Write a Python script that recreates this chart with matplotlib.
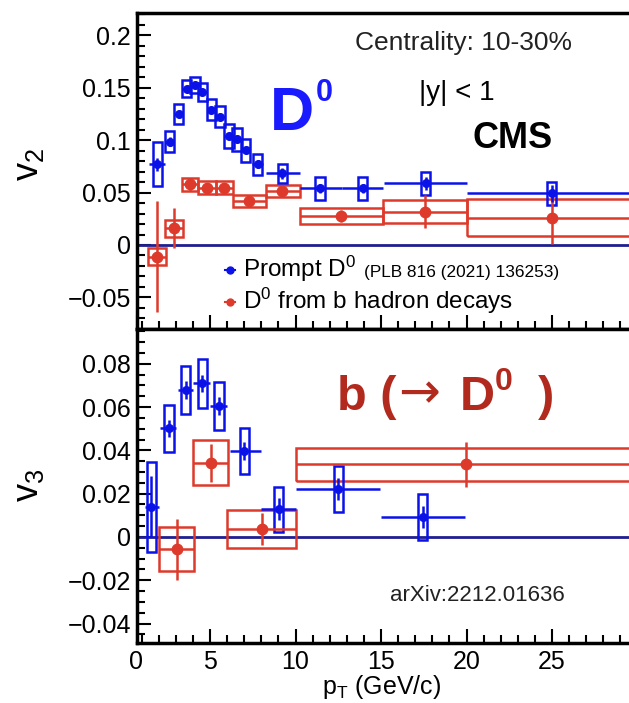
import matplotlib
matplotlib.use("Agg")
import matplotlib.pyplot as plt
from matplotlib.patches import Rectangle
from matplotlib.ticker import MultipleLocator, FixedLocator, FixedFormatter
import numpy as np

plt.rcParams["font.family"] = ["Liberation Sans", "DejaVu Sans"]
plt.rcParams["mathtext.fontset"] = "custom"
plt.rcParams["mathtext.rm"] = "Liberation Sans"
plt.rcParams["mathtext.it"] = "Liberation Sans:italic"
plt.rcParams["mathtext.bf"] = "Liberation Sans:bold"

# prompt D0 v2 (PLB 816 (2021) 136253)
pt_prompt_v2 = [1.92, 2.64, 3.17, 3.64, 4.12, 4.55, 5.08, 5.59, 6.10, 6.57, 7.08, 7.78, 9.23, 11.43, 13.93, 17.61, 24.98]
v2_prompt = [0.077, 0.0986, 0.125, 0.149, 0.1527, 0.146, 0.129, 0.1222, 0.104, 0.1009, 0.0906, 0.0772, 0.0684, 0.054, 0.054, 0.0589, 0.0493]
v2_prompt_stat = [0.006, 0.004, 0.003, 0.003, 0.003, 0.003, 0.003, 0.003, 0.003, 0.003, 0.003, 0.004, 0.005, 0.004, 0.004, 0.006, 0.008]
v2_prompt_sys = [0.021, 0.010, 0.010, 0.008, 0.008, 0.009, 0.010, 0.010, 0.011, 0.011, 0.011, 0.010, 0.009, 0.011, 0.011, 0.011, 0.011]
v2_prompt_lo = [1.45, 2.39, 2.92, 3.39, 3.87, 4.30, 4.83, 5.34, 5.85, 6.32, 6.83, 7.48, 8.30, 10.25, 12.70, 15.20, 20.0]
v2_prompt_hi = [2.37, 2.89, 3.42, 3.89, 4.37, 4.80, 5.33, 5.84, 6.35, 6.82, 7.33, 8.08, 10.25, 12.70, 15.10, 20.0, 30.0]

# D0 from b hadron decays, v2
pt_b_v2 = [1.92, 2.88, 3.83, 4.85, 5.84, 7.30, 9.23, 12.66, 17.57, 24.98]
v2_b = [-0.0112, 0.0159, 0.0579, 0.0547, 0.0547, 0.0423, 0.0515, 0.0277, 0.0318, 0.0261]
v2_b_stat = [0.053, 0.019, 0.006, 0.004, 0.004, 0.004, 0.006, 0.006, 0.016, 0.025]
v2_b_sys = [0.008, 0.008, 0.0064, 0.0064, 0.0064, 0.0056, 0.006, 0.0078, 0.0107, 0.0178]
v2_b_lo = [1.39, 2.37, 3.34, 4.32, 5.35, 6.33, 8.30, 10.26, 15.13, 20.0]
v2_b_hi = [2.42, 3.42, 4.32, 5.35, 6.33, 8.30, 10.26, 15.13, 20.0, 30.0]

# prompt D0 v3
pt_prompt_v3 = [1.57, 2.60, 3.58, 4.55, 5.53, 7.01, 9.02, 12.50, 17.44]
v3_prompt = [0.0140, 0.0502, 0.0679, 0.0710, 0.0605, 0.0397, 0.0128, 0.0222, 0.0091]
v3_prompt_stat = [0.014, 0.004, 0.004, 0.004, 0.004, 0.004, 0.005, 0.005, 0.005]
v3_prompt_sys = [0.0208, 0.0108, 0.0112, 0.0112, 0.011, 0.0108, 0.0105, 0.0105, 0.0106]
v3_prompt_lo = [1.2, 2.1, 3.1, 4.0, 5.0, 6.17, 8.0, 10.0, 15.0]
v3_prompt_hi = [2.0, 3.0, 4.0, 5.0, 6.0, 7.98, 10.0, 14.94, 19.9]

# D0 from b hadron decays, v3
pt_b_v3 = [3.05, 5.04, 8.04, 19.95]
v3_b = [-0.0057, 0.0343, 0.0037, 0.0336]
v3_b_stat = [0.0142, 0.0088, 0.0075, 0.0104]
v3_b_sys = [0.0102, 0.0104, 0.0086, 0.0077]
v3_b_lo = [2.04, 4.02, 5.98, 10.0]
v3_b_hi = [4.06, 6.07, 10.01, 30.0]

x_ticks = [5, 10, 15, 20, 25]

BLUE = "#0b12e8"
RED = "#dd3a2c"
DARK_RED = "#b2291d"
NAVY = "#1f1f8f"
BOX_W = 0.55


def draw_series(ax, x, y, stat, sys, lo, hi, color, ms, fixed_width=None):
    x = np.asarray(x)
    y = np.asarray(y)
    lo = np.asarray(lo)
    hi = np.asarray(hi)
    for xi, yi, si, l, h in zip(x, y, sys, lo, hi):
        if fixed_width is None:
            x0, w = l, h - l
        else:
            x0, w = xi - fixed_width / 2, fixed_width
        ax.add_patch(Rectangle((x0, yi - si), w, 2 * si, fill=False,
                               edgecolor=color, linewidth=1.8, zorder=3))
    ax.errorbar(x, y, yerr=stat, xerr=[x - lo, hi - x], fmt="o", color=color,
                ms=ms, elinewidth=1.8, capsize=0, zorder=4)


def style_axis(ax, ylim, major, minor):
    ax.set_xlim(0.7, 30.0)
    ax.set_ylim(*ylim)
    ax.axhline(0, color=NAVY, linewidth=2, zorder=2)
    ax.yaxis.set_major_locator(MultipleLocator(major))
    ax.yaxis.set_minor_locator(MultipleLocator(minor))
    ax.xaxis.set_major_locator(FixedLocator([0.7] + x_ticks))
    ax.xaxis.set_major_formatter(FixedFormatter(["0"] + [str(t) for t in x_ticks]))
    ax.xaxis.set_minor_locator(MultipleLocator(1))
    ax.tick_params(which="both", direction="in", top=False, right=False,
                   width=1.5, labelsize=18, pad=4)
    ax.tick_params(which="major", length=10)
    ax.tick_params(which="minor", length=6)
    ax.tick_params(axis="x", which="major", pad=5)
    for sp in ax.spines.values():
        sp.set_linewidth(2.5)


fig = plt.figure(figsize=(6.29, 7.03), dpi=100)
left = 136.5 / 629
width = 501 / 629
ax_top = fig.add_axes([left, 1 - 328.5 / 703, width, (328.5 - 13) / 703])
ax_bot = fig.add_axes([left, 1 - 643 / 703, width, (643 - 328.5) / 703])

# v2 panel
style_axis(ax_top, (-0.0797, 0.2214), 0.05, 0.01)
ax_top.tick_params(axis="x", labelbottom=False)
ax_top.yaxis.set_major_formatter(plt.FuncFormatter(lambda v, p: "0" if abs(v) < 1e-9 else f"{v:g}".replace("-", "\u2212")))
draw_series(ax_top, pt_b_v2, v2_b, v2_b_stat, v2_b_sys, v2_b_lo, v2_b_hi, RED, 7.5)
draw_series(ax_top, pt_prompt_v2, v2_prompt, v2_prompt_stat, v2_prompt_sys,
            v2_prompt_lo, v2_prompt_hi, BLUE, 5.5, fixed_width=BOX_W)
ax_top.set_ylabel(r"v$_{2}$", fontsize=26)
ax_top.yaxis.set_label_coords(-0.18, 0.52)

ax_top.text(0.436, 0.883, "Centrality: 10-30%", transform=ax_top.transAxes, fontsize=19, color="#222222")
ax_top.text(0.266, 0.629, "D", transform=ax_top.transAxes, fontsize=44, fontweight="bold", color="#1a1aff")
ax_top.text(0.358, 0.721, "0", transform=ax_top.transAxes, fontsize=22, fontweight="bold", color="#1a1aff")
ax_top.text(0.564, 0.724, "|y| < 1", transform=ax_top.transAxes, fontsize=20)
ax_top.text(0.670, 0.572, "CMS", transform=ax_top.transAxes, fontsize=26, fontweight="bold")

# legend drawn by hand so the reference can be set smaller
for yf, color in [(0.185, BLUE), (0.084, RED)]:
    ax_top.plot([0.177, 0.197], [yf, yf], color=color, lw=1.5, transform=ax_top.transAxes, clip_on=False)
    ax_top.plot([0.187], [yf], "o", color=color, ms=5, transform=ax_top.transAxes, clip_on=False)
ax_top.text(0.2126, 0.163, r"Prompt D$^{0}$", transform=ax_top.transAxes, fontsize=17.5)
ax_top.text(0.454, 0.163, "(PLB 816 (2021) 136253)", transform=ax_top.transAxes, fontsize=12.4)
ax_top.text(0.2126, 0.062, r"D$^{0}$ from b hadron decays", transform=ax_top.transAxes, fontsize=17.5)

# v3 panel
style_axis(ax_bot, (-0.049, 0.0963), 0.02, 0.005)
ax_bot.yaxis.set_major_formatter(plt.FuncFormatter(lambda v, p: "0" if abs(v) < 1e-9 else f"{v:.2f}".replace("-", "\u2212")))
draw_series(ax_bot, pt_b_v3, v3_b, v3_b_stat, v3_b_sys, v3_b_lo, v3_b_hi, RED, 7.5)
draw_series(ax_bot, pt_prompt_v3, v3_prompt, v3_prompt_stat, v3_prompt_sys,
            v3_prompt_lo, v3_prompt_hi, BLUE, 5.5, fixed_width=BOX_W)
ax_bot.set_ylabel(r"v$_{3}$", fontsize=26)
ax_bot.yaxis.set_label_coords(-0.18, 0.5)
ax_bot.set_xlabel(r"p$_{\mathrm{T}}$ (GeV/c)", fontsize=18)
ax_bot.xaxis.set_label_coords(0.49, -0.095)

ax_bot.text(0.3996, 0.741, "b (", transform=ax_bot.transAxes, fontsize=35, fontweight="bold", color=DARK_RED)
ax_bot.text(0.522, 0.745, "\u2192", transform=ax_bot.transAxes, fontsize=36,
            family="DejaVu Sans", color=DARK_RED)
ax_bot.text(0.646, 0.741, "D", transform=ax_bot.transAxes, fontsize=35, fontweight="bold", color=DARK_RED)
ax_bot.text(0.716, 0.804, "0", transform=ax_bot.transAxes, fontsize=23, fontweight="bold", color=DARK_RED)
ax_bot.text(0.802, 0.741, ")", transform=ax_bot.transAxes, fontsize=35, fontweight="bold", color=DARK_RED)
ax_bot.text(0.506, 0.1335, "arXiv:2212.01636", transform=ax_bot.transAxes, fontsize=16, color="#222222")

fig.savefig("out.png", dpi=100)
